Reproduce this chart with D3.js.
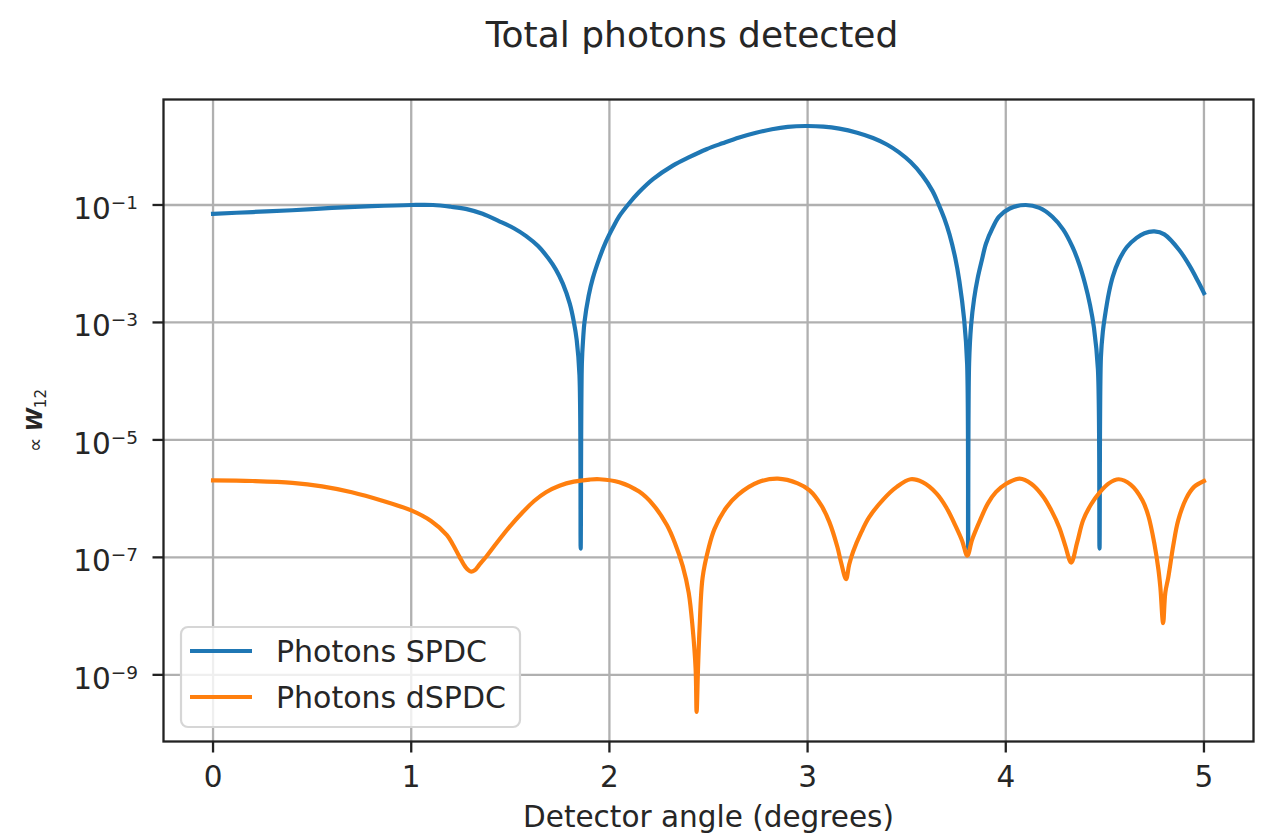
<!DOCTYPE html>
<html>
<head>
<meta charset="utf-8">
<script src="https://cdn.jsdelivr.net/npm/d3@7"></script>
<style>
  html, body { margin: 0; padding: 0; background: #fff; }
  svg { display: block; font-family: "DejaVu Sans", sans-serif; }
</style>
</head>
<body>
<svg id="chart" width="1264" height="834"></svg>
<script>
// ---------- data ----------
const titleText = "Total photons detected";
const xLabelText = "Detector angle (degrees)";
const seriesNames = ["Photons SPDC", "Photons dSPDC"];
const xTicks = [0, 1, 2, 3, 4, 5];
const yTickExponents = [-9, -7, -5, -3, -1];

// detector angle (degrees) for SPDC samples
const spdcX = [0.00, 0.20, 0.40, 0.60, 0.80, 1.00, 1.11, 1.20, 1.28, 1.36, 1.44, 1.52, 1.58, 1.64, 1.69, 1.73,
  1.765, 1.80, 1.82, 1.835, 1.849, 1.855, 1.861, 1.868, 1.874, 1.895, 1.916, 1.95, 1.983, 2.02, 2.05, 2.10, 2.15,
  2.22, 2.32, 2.40, 2.49, 2.57, 2.655, 2.74, 2.82, 2.90, 2.99, 3.08, 3.16, 3.25, 3.33, 3.40, 3.46, 3.52,
  3.58, 3.63, 3.66, 3.69, 3.716, 3.745, 3.766, 3.79, 3.805, 3.81, 3.815, 3.825, 3.84, 3.858, 3.88, 3.90, 3.935, 3.966,
  4.02, 4.10, 4.17, 4.235, 4.29, 4.336, 4.37, 4.40, 4.425, 4.445, 4.465, 4.473, 4.48, 4.49, 4.50, 4.52, 4.54, 4.57,
  4.61, 4.66, 4.70, 4.75, 4.80, 4.876, 4.93, 4.97, 5.00];
// SPDC photons, log10 of value (decades)
const spdcLog10 = [-1.15, -1.12, -1.09, -1.05, -1.02, -1.00, -1.00, -1.03, -1.07, -1.15, -1.27, -1.40, -1.53, -1.70, -1.90, -2.10,
  -2.34, -2.68, -2.98, -3.30, -3.90, -6.85, -3.70, -3.25, -3.00, -2.55, -2.25, -1.90, -1.62, -1.37, -1.19, -0.97, -0.78,
  -0.56, -0.33, -0.19, -0.05, 0.05, 0.15, 0.23, 0.29, 0.33, 0.345, 0.335, 0.30, 0.23, 0.14, 0.03, -0.10, -0.27,
  -0.50, -0.76, -0.98, -1.23, -1.50, -1.90, -2.30, -2.95, -3.70, -6.85, -3.70, -3.05, -2.60, -2.25, -1.93, -1.66, -1.38, -1.20,
  -1.06, -1.00, -1.05, -1.20, -1.42, -1.71, -2.00, -2.34, -2.70, -3.09, -3.80, -6.85, -3.60, -3.15, -2.90, -2.50, -2.22, -1.95,
  -1.72, -1.56, -1.48, -1.45, -1.50, -1.77, -2.05, -2.30, -2.50];

// detector angle (degrees) for dSPDC samples
const dspdcX = [0.00, 0.20, 0.40, 0.55, 0.70, 0.85, 1.00, 1.10, 1.18, 1.21, 1.245, 1.275, 1.30, 1.32, 1.345,
  1.38, 1.43, 1.496, 1.56, 1.62, 1.68, 1.748, 1.82, 1.90, 1.95, 2.05, 2.15, 2.22, 2.29, 2.33, 2.37,
  2.40, 2.42, 2.435, 2.44, 2.447, 2.455, 2.47, 2.50, 2.53, 2.59, 2.65, 2.75, 2.85, 2.95, 3.01, 3.07, 3.11, 3.15, 3.17,
  3.194, 3.21, 3.23, 3.27, 3.31, 3.38, 3.45, 3.52, 3.58, 3.65, 3.70, 3.75, 3.78, 3.806, 3.83, 3.87, 3.91,
  3.95, 4.00, 4.07, 4.13, 4.19, 4.23, 4.27, 4.30, 4.33, 4.36, 4.39, 4.43, 4.47, 4.52, 4.57, 4.63, 4.69,
  4.72, 4.75, 4.77, 4.78, 4.794, 4.805, 4.82, 4.845, 4.87, 4.91, 4.95, 5.00];
// dSPDC photons, log10 of value (decades)
const dspdcLog10 = [-5.69, -5.70, -5.73, -5.79, -5.89, -6.03, -6.20, -6.38, -6.62, -6.78, -7.00, -7.17, -7.24, -7.22, -7.12,
  -6.98, -6.76, -6.48, -6.24, -6.04, -5.89, -5.78, -5.71, -5.675, -5.67, -5.72, -5.88, -6.10, -6.45, -6.75, -7.15,
  -7.60, -8.20, -8.90, -9.63, -8.90, -8.20, -7.35, -6.85, -6.52, -6.15, -5.93, -5.72, -5.66, -5.74, -5.86, -6.12, -6.40, -6.82, -7.10,
  -7.37, -7.12, -6.90, -6.58, -6.32, -6.02, -5.80, -5.67, -5.72, -5.91, -6.15, -6.49, -6.72, -6.97, -6.70, -6.37, -6.08,
  -5.89, -5.75, -5.66, -5.75, -5.97, -6.20, -6.49, -6.80, -7.09, -6.75, -6.37, -6.10, -5.91, -5.74, -5.67, -5.76, -6.03,
  -6.30, -6.77, -7.20, -7.51, -8.12, -7.60, -7.34, -6.80, -6.37, -6.00, -5.80, -5.70];

const colors = ["#1f77b4", "#ff7f0e"];

// ---------- layout ----------
const svg = d3.select("#chart");
const L = 163.5, R = 1253.5, T = 99.5, B = 741.5;

const x = d3.scaleLinear().domain([-0.25, 5.25]).range([L, R]);
const y = d3.scaleLog().domain([Math.pow(10, -10.135), Math.pow(10, 0.796)]).range([B, T]);

const series = [
  spdcX.map((v, i) => ({ x: v, y: Math.pow(10, spdcLog10[i]) })),
  dspdcX.map((v, i) => ({ x: v, y: Math.pow(10, dspdcLog10[i]) }))
];

svg.append("defs").append("clipPath").attr("id", "clip")
  .append("rect").attr("x", L).attr("y", T).attr("width", R - L).attr("height", B - T);

// grid
const grid = svg.append("g");
grid.selectAll("line.gx").data(xTicks).enter().append("line")
  .attr("x1", d => x(d)).attr("x2", d => x(d)).attr("y1", T).attr("y2", B)
  .attr("stroke", "#b0b0b0").attr("stroke-width", 2.3);
grid.selectAll("line.gy").data(yTickExponents).enter().append("line")
  .attr("y1", d => y(Math.pow(10, d))).attr("y2", d => y(Math.pow(10, d))).attr("x1", L).attr("x2", R)
  .attr("stroke", "#b0b0b0").attr("stroke-width", 2.3);

// lines
const line = d3.line().x(d => x(d.x)).y(d => y(d.y)).curve(d3.curveCatmullRom.alpha(0.5));
const plot = svg.append("g").attr("clip-path", "url(#clip)");
series.forEach((s, i) => {
  plot.append("path").datum(s).attr("d", line)
    .attr("fill", "none").attr("stroke", colors[i]).attr("stroke-width", 4.2)
    .attr("stroke-linejoin", "round").attr("stroke-linecap", "square");
});

// spines
svg.append("rect").attr("x", L).attr("y", T).attr("width", R - L).attr("height", B - T)
  .attr("fill", "none").attr("stroke", "#222").attr("stroke-width", 2.3);

// x axis ticks + labels
const xa = svg.append("g");
xa.selectAll("line").data(xTicks).enter().append("line")
  .attr("x1", d => x(d)).attr("x2", d => x(d)).attr("y1", B).attr("y2", B + 11)
  .attr("stroke", "#222").attr("stroke-width", 2.3);
xa.selectAll("text").data(xTicks).enter().append("text")
  .attr("x", d => x(d)).attr("y", 787).attr("text-anchor", "middle")
  .attr("font-size", 29.5).attr("fill", "#262626").text(d => d);

// y axis ticks + labels
const ya = svg.append("g");
ya.selectAll("line").data(yTickExponents).enter().append("line")
  .attr("x1", L - 11).attr("x2", L).attr("y1", d => y(Math.pow(10, d))).attr("y2", d => y(Math.pow(10, d)))
  .attr("stroke", "#222").attr("stroke-width", 2.3);
const yl = ya.selectAll("text").data(yTickExponents).enter().append("text")
  .attr("x", 138).attr("y", d => y(Math.pow(10, d)) + 14).attr("text-anchor", "end")
  .attr("fill", "#262626");
yl.append("tspan").attr("font-size", 29.5).text("10");
yl.append("tspan").attr("font-size", 18.5).attr("dy", -10).text(d => "\u2212" + Math.abs(d));

// title
svg.append("text").attr("x", 692).attr("y", 47).attr("text-anchor", "middle")
  .attr("font-size", 36).attr("fill", "#262626").text(titleText);

// x label
svg.append("text").attr("x", (L + R) / 2).attr("y", 827).attr("text-anchor", "middle")
  .attr("font-size", 29.5).attr("fill", "#262626").text(xLabelText);

// y label: ∝ W_12 (rotated)
const ylab = svg.append("text").attr("transform", `translate(42, ${(T + B) / 2}) rotate(-90)`)
  .attr("text-anchor", "middle").attr("fill", "#262626");
ylab.append("tspan").attr("font-size", 20).text("\u221D ");
ylab.append("tspan").attr("font-size", 21).attr("font-weight", "bold").attr("font-style", "italic").text("W");
ylab.append("tspan").attr("font-size", 15).attr("dy", 4).text("12");

// legend
const lg = svg.append("g");
lg.append("rect").attr("x", 181).attr("y", 627).attr("width", 339).attr("height", 100).attr("rx", 7)
  .attr("fill", "#fff").attr("fill-opacity", 0.8).attr("stroke", "#d6d6d6").attr("stroke-width", 2.2);
seriesNames.forEach((n, i) => {
  const cy = 651 + i * 46;
  lg.append("line").attr("x1", 190).attr("x2", 252).attr("y1", cy).attr("y2", cy)
    .attr("stroke", colors[i]).attr("stroke-width", 4.2);
  lg.append("text").attr("x", 276).attr("y", cy + 11).attr("font-size", 30).attr("fill", "#262626").text(n);
});
</script>
</body>
</html>
